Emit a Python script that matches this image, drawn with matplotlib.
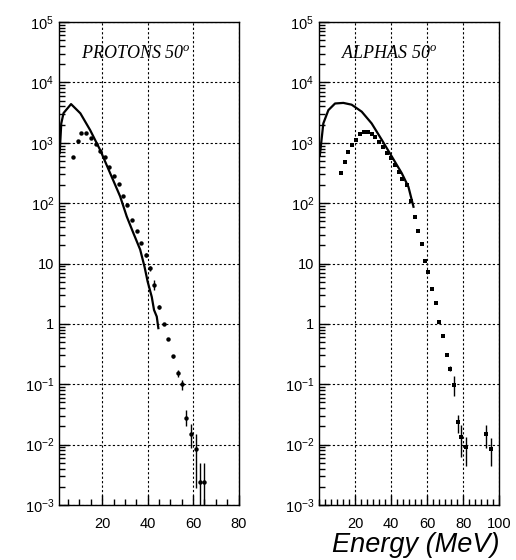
import numpy as np
import matplotlib
matplotlib.use("Agg")
import matplotlib.pyplot as plt
from matplotlib.ticker import FixedLocator, FuncFormatter, MultipleLocator, NullFormatter

plt.rcParams['font.family'] = ['Liberation Sans', 'DejaVu Sans']
plt.rcParams['mathtext.fontset'] = 'custom'
plt.rcParams['mathtext.it'] = 'Liberation Serif:italic'
plt.rcParams['mathtext.rm'] = 'Liberation Sans'

# protons 50 deg : data points
p_E = [7.1, 9.2, 10.8, 13.0, 15.0, 17.1, 19.1, 21.2, 23.2, 25.1, 27.2, 29.2, 31.1, 33.2, 35.2,
       37.1, 39.2, 41.2, 42.9, 45.0, 47.1, 49.1, 51.0, 53.2, 55.1, 57.0, 59.0, 61.2, 63.0, 64.9]
p_val = [590, 1085, 1470, 1435, 1217, 945, 740, 575, 402, 285, 205, 132, 93, 52, 34.6,
         22, 13.9, 8.3, 4.4, 1.89, 0.99, 0.565, 0.29, 0.152, 0.102, 0.0278, 0.0151, 0.0085, 0.00245, 0.00245]
p_lo = [590, 1085, 1470, 1435, 1217, 945, 740, 575, 402, 285, 205, 132, 93, 52, 34.6,
        22, 13.0, 7.6, 3.6, 1.75, 0.95, 0.54, 0.27, 0.132, 0.081, 0.0204, 0.0089, 0.0019, 0.0005, 0.0005]
p_hi = [590, 1085, 1470, 1435, 1217, 945, 740, 575, 402, 285, 205, 132, 93, 52, 34.6,
        22, 14.8, 9.0, 5.4, 2.05, 1.03, 0.59, 0.31, 0.174, 0.117, 0.038, 0.0219, 0.0151, 0.0049, 0.0049]

# protons 50 deg : calculation
p_cE = [1.3, 2.0, 3.0, 6.3, 10.4, 14.7, 19.1, 23.5, 27.9, 30.8, 33.7, 36.7, 38.6, 40.0, 41.8, 42.8, 44.0, 44.7]
p_cval = [676, 2090, 3100, 4370, 3070, 1620, 760, 313, 129, 60, 32, 17, 8.9, 5.0, 2.8, 1.7, 1.32, 0.85]

# alphas 50 deg : data points
a_E = [12.4, 14.2, 16.3, 18.5, 20.5, 22.8, 25.0, 27.0, 29.2, 31.3, 33.5, 35.6, 37.8, 39.8, 42.0,
       44.1, 46.3, 48.7, 50.9, 53.0, 54.8, 57.0, 58.9, 60.6, 62.8, 64.8, 66.8, 68.9, 71.1, 72.9,
       75.1, 77.2, 78.9, 81.3, 92.9, 95.3]
a_val = [320, 475, 713, 912, 1110, 1380, 1520, 1520, 1400, 1230, 1045, 860, 685, 552, 436,
         333, 250, 200, 108, 60, 35, 21, 11.2, 7.2, 3.76, 2.2, 1.07, 0.63, 0.307, 0.182,
         0.098, 0.024, 0.0136, 0.0091, 0.0148, 0.0085]
a_lo = [320, 475, 713, 912, 1110, 1380, 1520, 1520, 1400, 1230, 1045, 860, 685, 552, 436,
        333, 250, 200, 108, 60, 35, 21, 11.2, 7.2, 3.76, 2.2, 1.07, 0.63, 0.29, 0.165,
        0.063, 0.0155, 0.0063, 0.0044, 0.0087, 0.0044]
a_hi = [320, 475, 713, 912, 1110, 1380, 1520, 1520, 1400, 1230, 1045, 860, 685, 552, 436,
        333, 250, 200, 108, 60, 35, 21, 11.2, 7.2, 3.76, 2.2, 1.07, 0.63, 0.325, 0.2,
        0.135, 0.031, 0.0214, 0.0135, 0.0214, 0.0129]

# alphas 50 deg : calculation
a_cE = [0.5, 2.4, 5.2, 8.9, 13.5, 18.1, 23.7, 29.2, 34.8, 40.4, 45.9, 49.6, 52.4]
a_cval = [630, 2090, 3470, 4470, 4570, 4270, 3270, 2090, 1120, 590, 313, 186, 87]

y_major = [10.0**e for e in range(-3, 6)]
y_minor = [m * 10.0**e for e in range(-3, 5) for m in range(2, 10)]


def yfmt(v, pos):
    e = int(round(np.log10(v)))
    if e == 0:
        return "1"
    if e == 1:
        return "10"
    return r"$\mathregular{10^{%d}}$" % e


fig = plt.figure(figsize=(5.16, 5.6), dpi=100)
ax1 = fig.add_axes([59/516, 55/560, 179.6/516, 483/560])
ax2 = fig.add_axes([319/516, 55/560, 180.3/516, 483/560])

panels = [
    (ax1, p_E, p_val, p_lo, p_hi, p_cE, p_cval, 'o', 3.2, (1, 80), [20, 40, 60, 80], 5, "PROTONS 50"),
    (ax2, a_E, a_val, a_lo, a_hi, a_cE, a_cval, 's', 3.4, (0, 100), [20, 40, 60, 80, 100], 20/6, "ALPHAS 50"),
]

for ax, E, val, lo, hi, cE, cval, mk, ms, xl, xt, xminor, title in panels:
    val = np.array(val)
    yerr = [val - np.array(lo), np.array(hi) - val]
    ax.errorbar(E, val, yerr=yerr, fmt=mk, color='black', ms=ms, mew=0,
                elinewidth=1, capsize=0, zorder=3)
    ax.plot(cE, cval, color='black', lw=1.6, zorder=4)
    ax.set_yscale('log')
    ax.set_ylim(1e-3, 1e5)
    ax.set_xlim(*xl)
    ax.xaxis.set_major_locator(FixedLocator(xt))
    ax.xaxis.set_minor_locator(MultipleLocator(xminor))
    ax.yaxis.set_major_locator(FixedLocator(y_major))
    ax.yaxis.set_minor_locator(FixedLocator(y_minor))
    ax.yaxis.set_major_formatter(FuncFormatter(yfmt))
    ax.yaxis.set_minor_formatter(NullFormatter())
    ax.tick_params(which='both', direction='in', top=False, right=False, labelsize=10.5, width=1)
    ax.tick_params(which='major', length=7)
    ax.tick_params(which='minor', length=4)
    ax.tick_params(axis='x', pad=9)
    ax.grid(True, which='major', color='black', linestyle=(0, (2, 2)), lw=0.8)
    for s in ax.spines.values():
        s.set_linewidth(1)
    ax.text(0.12, 0.925, title + r"$^{\mathit{o}}$", transform=ax.transAxes,
            fontsize=13, family='Liberation Serif', style='italic', va='baseline')

fig.text(499/516, 15/560, "Energy (MeV)", ha='right', va='center', fontsize=19.5, style='italic')

fig.savefig("out.png", dpi=100)
